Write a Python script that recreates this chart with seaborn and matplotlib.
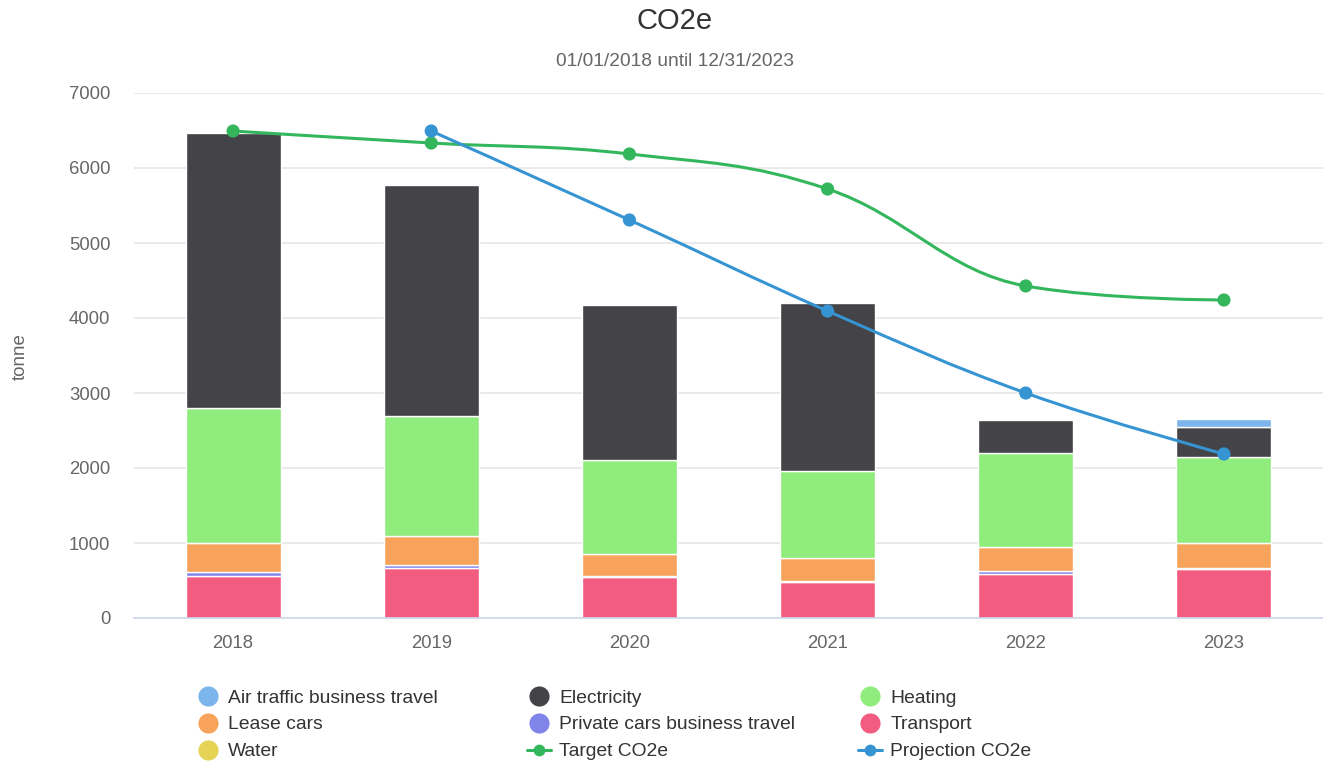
import numpy as np
import pandas as pd
import matplotlib
matplotlib.use('Agg')
import matplotlib.pyplot as plt
from matplotlib.path import Path
from matplotlib.patches import PathPatch
from matplotlib.lines import Line2D
import seaborn as sns

# --- data ---
years = ['2018', '2019', '2020', '2021', '2022', '2023']

water = [0, 0, 0, 0, 0, 0]
transport = [566, 671, 542, 480, 587, 649]
private_cars = [50, 30, 20, 20, 40, 20]
lease_cars = [380, 396, 285, 300, 324, 335]
heating = [1804, 1596, 1258, 1166, 1245, 1148]
electricity = [3667, 3080, 2073, 2228, 444, 400]
air_traffic = [0, 0, 0, 0, 0, 100]

target_years = ['2018', '2019', '2020', '2021', '2022', '2023']
target_co2e = [6493, 6333, 6187, 5720, 4427, 4240]
projection_years = ['2019', '2020', '2021', '2022', '2023']
projection_co2e = [6493, 5307, 4093, 3000, 2187]

# bottom-up stacking order
stack = [
    ('Water', water, '#e4d354'),
    ('Transport', transport, '#f15c80'),
    ('Private cars business travel', private_cars, '#8085e9'),
    ('Lease cars', lease_cars, '#f7a35c'),
    ('Heating', heating, '#90ed7d'),
    ('Electricity', electricity, '#434348'),
    ('Air traffic business travel', air_traffic, '#7cb5ec'),
]
target_color = '#33b65c'
projection_color = '#3794d3'


def spline_path(xs, ys, smoothing=1.5):
    # Highcharts-style spline: cubic bezier through every point
    n = len(xs)
    denom = smoothing + 1
    left = [None] * n
    right = [None] * n
    for i in range(1, n - 1):
        px, py = xs[i], ys[i]
        lx, ly = xs[i - 1], ys[i - 1]
        nx, ny = xs[i + 1], ys[i + 1]
        lcx = (smoothing * px + lx) / denom
        lcy = (smoothing * py + ly) / denom
        rcx = (smoothing * px + nx) / denom
        rcy = (smoothing * py + ny) / denom
        if rcx != lcx:
            corr = (rcy - lcy) * (rcx - px) / (rcx - lcx) + py - rcy
            lcy += corr
            rcy += corr
            if lcy > ly and lcy > py:
                lcy = max(ly, py)
                rcy = 2 * py - lcy
            elif lcy < ly and lcy < py:
                lcy = min(ly, py)
                rcy = 2 * py - lcy
            if rcy > ny and rcy > py:
                rcy = max(ny, py)
                lcy = 2 * py - rcy
            elif rcy < ny and rcy < py:
                rcy = min(ny, py)
                lcy = 2 * py - rcy
        left[i] = (lcx, lcy)
        right[i] = (rcx, rcy)
    verts = [(xs[0], ys[0])]
    codes = [Path.MOVETO]
    for i in range(1, n):
        c1 = right[i - 1] if right[i - 1] is not None else (xs[i - 1], ys[i - 1])
        c2 = left[i] if left[i] is not None else (xs[i], ys[i])
        verts += [c1, c2, (xs[i], ys[i])]
        codes += [Path.CURVE4] * 3
    return Path(verts, codes)


sns.set_theme(style='white')
plt.rcParams['font.family'] = ['Liberation Sans', 'DejaVu Sans']

fig = plt.figure(figsize=(13.23, 7.62), dpi=100)
ax = fig.add_axes([134 / 1323, 1 - 618 / 762, 1 - 134 / 1323, (618 - 93) / 762])

x = np.arange(len(years))
bottom = np.zeros(len(years))
for name, vals, color in stack:
    vals = np.array(vals, dtype=float)
    mask = vals > 0
    ax.bar(x[mask], vals[mask], bottom=bottom[mask], width=0.48, color=color,
           edgecolor='white', linewidth=1.0, zorder=2)
    bottom += vals

# lines
tx = [years.index(y) for y in target_years]
px_ = [years.index(y) for y in projection_years]
ax.add_patch(PathPatch(spline_path(tx, target_co2e), facecolor='none',
                       edgecolor=target_color, linewidth=2.2, zorder=3))
ax.add_patch(PathPatch(spline_path(px_, projection_co2e), facecolor='none',
                       edgecolor=projection_color, linewidth=2.2, zorder=3))
sns.scatterplot(x=tx, y=target_co2e, color=target_color, s=90, edgecolor='none',
                ax=ax, zorder=4)
sns.scatterplot(x=px_, y=projection_co2e, color=projection_color, s=90, edgecolor='none',
                ax=ax, zorder=4)

ax.set_xlim(-0.5, len(years) - 0.5)
ax.set_ylim(0, 7000)
ax.set_yticks(range(0, 7001, 1000))
ax.set_xticks(x)
ax.set_xticklabels(years)
ax.yaxis.grid(True, color='#e6e6e6', linewidth=1.2, zorder=0)
ax.set_axisbelow(True)
for s in ['top', 'right', 'left']:
    ax.spines[s].set_visible(False)
ax.spines['bottom'].set_color('#ccd6eb')
ax.spines['bottom'].set_linewidth(1.2)
ax.tick_params(axis='y', length=0, pad=17, labelsize=13.3, labelcolor='#666666')
ax.tick_params(axis='x', length=0, pad=12, labelsize=13.3, labelcolor='#666666')
ax.set_xlabel('')
ax.set_ylabel('')

fig.text(20 / 1323, 1 - 357 / 762, 'tonne', rotation=90, ha='center', va='center',
         fontsize=13.5, color='#666666')
fig.text(675 / 1323, 1 - 21 / 762, 'CO2e', ha='center', va='center', fontsize=21, color='#333333')
fig.text(675 / 1323, 1 - 61 / 762, '01/01/2018 until 12/31/2023', ha='center', va='center',
         fontsize=13.8, color='#666666')


def dot(color):
    return Line2D([], [], marker='o', linestyle='none', markersize=14.5,
                  markerfacecolor=color, markeredgecolor='none')


def line_dot(color):
    return Line2D([], [], marker='o', linestyle='-', linewidth=2.2, markersize=8.5,
                  color=color, markeredgecolor='none')


colors = {name: c for name, _, c in stack}
columns = [
    [('Air traffic business travel', dot(colors['Air traffic business travel'])),
     ('Lease cars', dot(colors['Lease cars'])),
     ('Water', dot(colors['Water']))],
    [('Electricity', dot(colors['Electricity'])),
     ('Private cars business travel', dot(colors['Private cars business travel'])),
     ('Target CO2e', line_dot(target_color))],
    [('Heating', dot(colors['Heating'])),
     ('Transport', dot(colors['Transport'])),
     ('Projection CO2e', line_dot(projection_color))],
]
col_x = [196, 527, 858]
for cx, col in zip(col_x, columns):
    leg = fig.legend([h for _, h in col], [t for t, _ in col], loc='upper left',
                     bbox_to_anchor=(cx / 1323, 1 - 689 / 762), frameon=False,
                     fontsize=13.9, handlelength=1.25, handletextpad=0.42,
                     labelspacing=0.49, borderpad=0, borderaxespad=0)
    for t in leg.get_texts():
        t.set_color('#333333')

fig.savefig('out.png', dpi=100)
